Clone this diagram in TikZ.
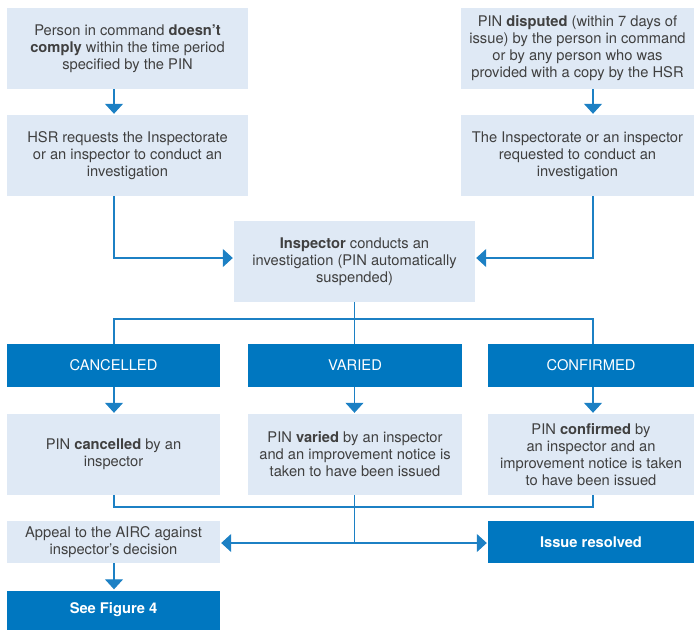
\documentclass[tikz,border=0pt]{standalone}
\usepackage{fontspec}
\setmainfont{TeX Gyre Heros}
\usetikzlibrary{arrows.meta}
\definecolor{lightbox}{HTML}{DFE9F5}
\definecolor{darkbox}{HTML}{0077C0}
\definecolor{txt}{HTML}{404040}
\definecolor{lncol}{HTML}{1C80C4}
\begin{document}
\begin{tikzpicture}[x=1pt,y=-1pt,
  basebox/.style={rectangle, inner sep=0pt, align=center, font=\fontsize{14.7}{17}\selectfont},
  lbox/.style={basebox, fill=lightbox, text=txt},
  dbox/.style={basebox, fill=darkbox, text=white},
  conn/.style={draw=lncol, line width=1.1pt},
  arr/.style={conn, -{Triangle[width=18pt,length=10pt]}, shorten >=1pt}]
\useasboundingbox (0,0) rectangle (694,630);
% columns and levels
\coordinate (cL) at (114,0);
\coordinate (cM) at (354.5,0);
\coordinate (cR) at (593,0);
\coordinate (s1) at (0,319);
\coordinate (s2) at (0,507);
% top boxes
\node[lbox, minimum width=241pt, minimum height=81pt] (A) at (127.5,48.5)
  {Person in command \textbf{doesn’t}\\ \textbf{comply} within the time period\\ specified by the PIN};
\node[lbox, minimum width=241pt, minimum height=81pt] (B) at (127.5,155.5)
  {HSR requests the Inspectorate\\ or an inspector to conduct an\\ investigation};
\node[lbox, minimum width=233pt, minimum height=81pt] (C) at (577.5,48.5)
  {PIN \textbf{disputed} (within 7 days of\\ issue) by the person in command\\ or by any person who was\\ provided with a copy by the HSR};
\node[lbox, minimum width=233pt, minimum height=81pt] (D) at (577.5,155.5)
  {The Inspectorate or an inspector\\ requested to conduct an\\ investigation};
\node[lbox, minimum width=241pt, minimum height=81pt] (E) at (354.5,261.5)
  {\textbf{Inspector} conducts an\\ investigation (PIN automatically\\ suspended)};
% outcome headers
\node[dbox, minimum width=213pt, minimum height=43pt] (X1) at (113.5,365.5) {CANCELLED};
\node[dbox, minimum width=214pt, minimum height=43pt] (X2) at (355,365.5) {VARIED};
\node[dbox, minimum width=206pt, minimum height=43pt] (X3) at (591,365.5) {CONFIRMED};
% outcome boxes
\node[lbox, minimum width=213pt, minimum height=81pt] (P1) at (113.5,454.5)
  {PIN \textbf{cancelled} by an\\ inspector};
\node[lbox, minimum width=214pt, minimum height=81pt] (P2) at (355,454.5)
  {PIN \textbf{varied} by an inspector\\ and an improvement notice is\\ taken to have been issued};
\node[lbox, minimum width=206pt, minimum height=81pt] (P3) at (591,454.5)
  {PIN \textbf{confirmed} by\\ an inspector and an\\ improvement notice is taken\\ to have been issued};
% bottom
\node[lbox, minimum width=213pt, minimum height=42pt] (Q1) at (113.5,542)
  {Appeal to the AIRC against\\ inspector’s decision};
\node[dbox, minimum width=206pt, minimum height=42pt] (Q2) at (591,542)
  {\textbf{Issue resolved}};
\node[dbox, minimum width=213pt, minimum height=39pt] (R1) at (113.5,610)
  {\textbf{See Figure 4}};
% connectors
\draw[arr] (A.south -| cL) -- (B.north -| cL);
\draw[arr] (C.south -| cR) -- (D.north -| cR);
\draw[arr] (B.south -| cL) |- ([yshift=3.5pt]E.west);
\draw[arr] (D.south -| cR) |- ([yshift=3.5pt]E.east);
\draw[conn] (E.south) -- (E.south |- s1);
\draw[conn] (X1.north -| cL) -- (cL |- s1) -- (cR |- s1) -- (X3.north -| cR);
\draw[conn] (cM |- s1) -- (X2.north -| cM);
\draw[arr] (X1.south -| cL) -- (P1.north -| cL);
\draw[arr] (X2.south -| cM) -- (P2.north -| cM);
\draw[arr] (X3.south -| cR) -- (P3.north -| cR);
\draw[conn] (P1.south -| cL) -- (cL |- s2) -- (cR |- s2) -- (P3.south -| cR);
\draw[conn] (P2.south -| cM) -- ([yshift=-1pt]cM |- Q1.east);
\draw[arr] ([yshift=-1pt]cM |- Q1.east) -- ([yshift=-1pt]Q1.east);
\draw[arr] ([yshift=-1pt]cM |- Q2.west) -- ([yshift=-1pt]Q2.west);
\draw[arr] (Q1.south -| cL) -- (R1.north -| cL);
\end{tikzpicture}
\end{document}
